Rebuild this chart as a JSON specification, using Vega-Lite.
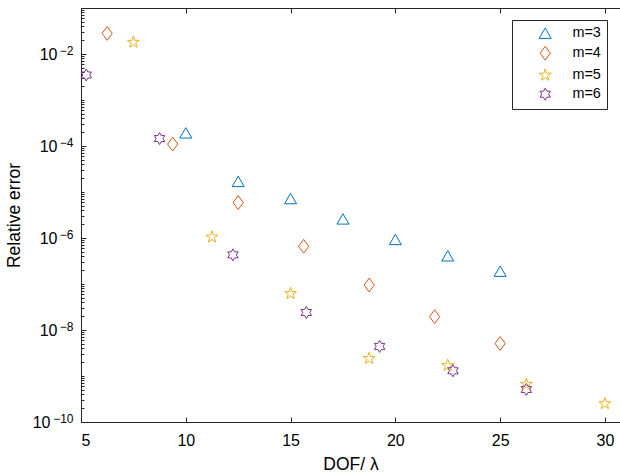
{
  "$schema": "https://vega.github.io/schema/vega-lite/v6.json",
  "width": 539,
  "height": 414,
  "autosize": {"type": "none"},
  "padding": {"left": 81, "top": 8, "right": 0, "bottom": 53},
  "background": "white",
  "view": {"stroke": null},
  "data": {
    "values": [
      {"m": "3", "dof": 10, "err": 1.93e-4},
      {"m": "3", "dof": 12.5, "err": 1.7e-5},
      {"m": "3", "dof": 15, "err": 7.2e-6},
      {"m": "3", "dof": 17.5, "err": 2.6e-6},
      {"m": "3", "dof": 20, "err": 9.3e-7},
      {"m": "3", "dof": 22.5, "err": 4.1e-7},
      {"m": "3", "dof": 25, "err": 1.9e-7},
      {"m": "4", "dof": 6.25, "err": 2.8e-2},
      {"m": "4", "dof": 9.375, "err": 1.1e-4},
      {"m": "4", "dof": 12.5, "err": 5.9e-6},
      {"m": "4", "dof": 15.625, "err": 6.6e-7},
      {"m": "4", "dof": 18.75, "err": 9.5e-8},
      {"m": "4", "dof": 21.875, "err": 1.95e-8},
      {"m": "4", "dof": 25, "err": 5.1e-9},
      {"m": "5", "dof": 7.5, "err": 1.8e-2},
      {"m": "5", "dof": 11.25, "err": 1.05e-6},
      {"m": "5", "dof": 15, "err": 6.2e-8},
      {"m": "5", "dof": 18.75, "err": 2.4e-9},
      {"m": "5", "dof": 22.5, "err": 1.7e-9},
      {"m": "5", "dof": 26.25, "err": 6.6e-10},
      {"m": "5", "dof": 30, "err": 2.5e-10},
      {"m": "6", "dof": 5.25, "err": 3.5e-3},
      {"m": "6", "dof": 8.75, "err": 1.45e-4},
      {"m": "6", "dof": 12.25, "err": 4.3e-7},
      {"m": "6", "dof": 15.75, "err": 2.4e-8},
      {"m": "6", "dof": 19.25, "err": 4.4e-9},
      {"m": "6", "dof": 22.75, "err": 1.3e-9},
      {"m": "6", "dof": 26.25, "err": 5.1e-10}
    ]
  },
  "layer": [
    {
      "mark": {"type": "point", "filled": false, "strokeWidth": 1, "size": 144, "opacity": 1},
      "encoding": {
        "x": {
          "field": "dof", "type": "quantitative",
          "scale": {"domain": [5, 30.72], "nice": false, "zero": false},
          "axis": {
            "orient": "bottom",
            "values": [5, 10, 15, 20, 25, 30],
            "tickSize": -5,
            "labelPadding": 15,
            "title": "DOF/ λ",
            "titlePadding": 7
          }
        },
        "y": {
          "field": "err", "type": "quantitative",
          "scale": {"type": "log", "domain": [1e-10, 0.1], "nice": false},
          "axis": {
            "orient": "left",
            "values": [1e-10, 1e-8, 1e-6, 1e-4, 1e-2],
            "tickSize": -5,
            "labelPadding": {"condition": {"test": "datum.value < 5e-10", "value": 36}, "value": 29},
            "labelExpr": "'10'",
            "title": "Relative error",
            "titlePadding": 9
          }
        },
        "color": {
          "field": "m", "type": "nominal",
          "scale": {"domain": ["3", "4", "5", "6"], "range": ["#0072BD", "#D95319", "#EDB120", "#7E2F8E"]},
          "legend": {
            "orient": "none",
            "legendX": 431,
            "legendY": 12,
            "title": null,
            "labelExpr": "'m=' + datum.label",
            "strokeColor": "#262626",
            "fillColor": "white",
            "padding": 6,
            "symbolOffset": 20,
            "labelOffset": 20,
            "rowPadding": 3,
            "labelFontSize": 14.4,
            "labelFont": "Liberation Sans",
            "labelColor": "#000000",
            "symbolSize": 144,
            "symbolStrokeWidth": 1
          }
        },
        "shape": {
          "field": "m", "type": "nominal",
          "scale": {
            "domain": ["3", "4", "5", "6"],
            "range": [
              "triangle-up",
              "M0,-1.15L0.85,0L0,1.15L-0.85,0Z",
              "M0,-1.05L0.236,-0.324L0.999,-0.324L0.381,0.124L0.617,0.849L0,0.401L-0.617,0.849L-0.381,0.124L-0.999,-0.324L-0.236,-0.324Z",
              "M0,-1L0.289,-0.5L0.866,-0.5L0.577,0L0.866,0.5L0.289,0.5L0,1L-0.289,0.5L-0.866,0.5L-0.577,0L-0.866,-0.5L-0.289,-0.5Z"
            ]
          },
          "legend": null
        }
      }
    },
    {
      "mark": {"type": "point", "opacity": 0},
      "encoding": {
        "x": {
          "field": "dof", "type": "quantitative",
          "axis": {
            "orient": "top",
            "values": [5, 10, 15, 20, 25, 30],
            "tickSize": -5,
            "labels": false,
            "title": null
          }
        },
        "y": {
          "field": "err", "type": "quantitative",
          "axis": {
            "orient": "left",
            "values": [2e-10, 3e-10, 4e-10, 5e-10, 6e-10, 7e-10, 8e-10, 9e-10,
                       1e-9, 2e-9, 3e-9, 4e-9, 5e-9, 6e-9, 7e-9, 8e-9, 9e-9,
                       2e-8, 3e-8, 4e-8, 5e-8, 6e-8, 7e-8, 8e-8, 9e-8,
                       1e-7, 2e-7, 3e-7, 4e-7, 5e-7, 6e-7, 7e-7, 8e-7, 9e-7,
                       2e-6, 3e-6, 4e-6, 5e-6, 6e-6, 7e-6, 8e-6, 9e-6,
                       1e-5, 2e-5, 3e-5, 4e-5, 5e-5, 6e-5, 7e-5, 8e-5, 9e-5,
                       2e-4, 3e-4, 4e-4, 5e-4, 6e-4, 7e-4, 8e-4, 9e-4,
                       1e-3, 2e-3, 3e-3, 4e-3, 5e-3, 6e-3, 7e-3, 8e-3, 9e-3,
                       2e-2, 3e-2, 4e-2, 5e-2, 6e-2, 7e-2, 8e-2, 9e-2, 1e-1],
            "tickSize": -3,
            "labels": false,
            "domain": false,
            "title": null
          }
        }
      }
    },
    {
      "mark": {"type": "point", "opacity": 0},
      "encoding": {
        "y": {
          "field": "err", "type": "quantitative",
          "axis": {
            "orient": "left",
            "values": [1e-10, 1e-8, 1e-6, 1e-4, 1e-2],
            "ticks": false,
            "tickSize": 0,
            "domain": false,
            "labelPadding": 8,
            "labelFontSize": 12,
            "labelOffset": -4,
            "labelExpr": "datum.value < 5e-10 ? '−10' : datum.value < 5e-8 ? '−8' : datum.value < 5e-6 ? '−6' : datum.value < 5e-4 ? '−4' : '−2'",
            "title": null
          }
        }
      }
    }
  ],
  "resolve": {"axis": {"x": "independent", "y": "independent"}},
  "config": {
    "font": "Liberation Sans",
    "axis": {
      "grid": false,
      "domainColor": "#262626",
      "tickColor": "#262626",
      "labelColor": "#000000",
      "labelFont": "Liberation Sans",
      "labelFontSize": 16,
      "titleFont": "Liberation Sans",
      "titleFontSize": 17.5,
      "titleFontWeight": "normal",
      "titleColor": "#000000"
    }
  }
}
